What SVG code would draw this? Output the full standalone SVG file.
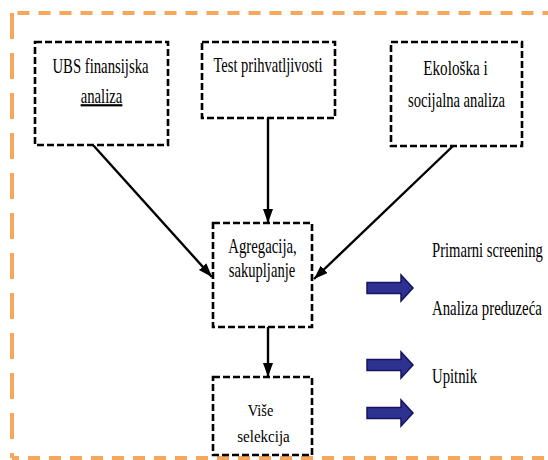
<svg xmlns="http://www.w3.org/2000/svg" width="548" height="460" viewBox="0 0 548 460">
<style>
.frame{fill:none;stroke:#F6A75C;stroke-width:4}
.box{fill:#fff;stroke:#000;stroke-width:2.6;stroke-dasharray:7 3}
.t{font-family:"Liberation Serif","Times New Roman","DejaVu Serif",serif;fill:#000}
.c{text-anchor:middle}
.big{font-size:22px}
.mid{font-size:20px}
.sm{font-size:16px}
.con{stroke:#000;stroke-width:2.4;fill:none;marker-end:url(#ah)}
.blk{fill:#2E3192;stroke:#15155E;stroke-width:1.5}
</style>
<defs>
<marker id="ah" markerUnits="userSpaceOnUse" markerWidth="16" markerHeight="12" refX="14" refY="5" orient="auto">
<path d="M0,0 L14,5 L0,10 z" fill="#000"/>
</marker>
</defs>
<rect width="548" height="460" fill="#fff"/>
<g id="frame">
<path class="frame" d="M12,13 H548" stroke-dasharray="12 9" stroke-dashoffset="-5.5"/>
<path class="frame" d="M12,13 V458" stroke-dasharray="26 14"/>
<path class="frame" d="M12,458 H548" stroke-dasharray="12 9" stroke-dashoffset="5"/>
</g>
<g id="connectors">
<line class="con" x1="93" y1="145" x2="212" y2="277"/>
<line class="con" x1="268" y1="118" x2="268" y2="223"/>
<line class="con" x1="453" y1="146" x2="314" y2="279"/>
<line class="con" x1="268" y1="327" x2="268" y2="377"/>
</g>
<g id="n-ubs">
<rect class="box" x="35" y="42" width="133" height="103"/>
<text class="t big c" transform="translate(100.5,73) scale(0.67,1)">UBS finansijska</text>
<text class="t big c" transform="translate(101.5,103) scale(0.67,1)" text-decoration="underline">analiza</text>
</g>
<g id="n-test">
<rect class="box" x="202" y="42" width="133" height="76"/>
<text class="t big c" transform="translate(268,72) scale(0.66,1)">Test prihvatljivosti</text>
</g>
<g id="n-eko">
<rect class="box" x="391" y="42" width="131" height="104"/>
<text class="t big c" transform="translate(455.5,75) scale(0.69,1)">Ekološka i</text>
<text class="t big c" transform="translate(456.5,107) scale(0.664,1)">socijalna analiza</text>
</g>
<g id="n-agr">
<rect class="box" x="213" y="223" width="99" height="104"/>
<text class="t mid c" transform="translate(262.5,253) scale(0.74,1)">Agregacija,</text>
<text class="t mid c" transform="translate(262,277) scale(0.73,1)">sakupljanje</text>
</g>
<g id="n-vise">
<rect class="box" x="213" y="377" width="99" height="78"/>
<text class="t sm c" transform="translate(260.5,416) scale(0.9,1)">Više</text>
<text class="t sm c" transform="translate(263.5,442) scale(0.94,1)">selekcija</text>
</g>
<g id="legend">
<path class="blk" d="M367,282.5 H401 V275 L413,288 L401,301 V293.5 H367 z"/>
<path class="blk" d="M367,359.5 H401 V352 L413,365 L401,378 V370.5 H367 z"/>
<path class="blk" d="M367,407.5 H401 V400 L413,413 L401,426 V418.5 H367 z"/>
<text class="t big" transform="translate(432,257) scale(0.665,1)">Primarni screening</text>
<text class="t big" transform="translate(432,315) scale(0.674,1)">Analiza preduzeća</text>
<text class="t big" transform="translate(432,383) scale(0.67,1)">Upitnik</text>
</g>
</svg>
